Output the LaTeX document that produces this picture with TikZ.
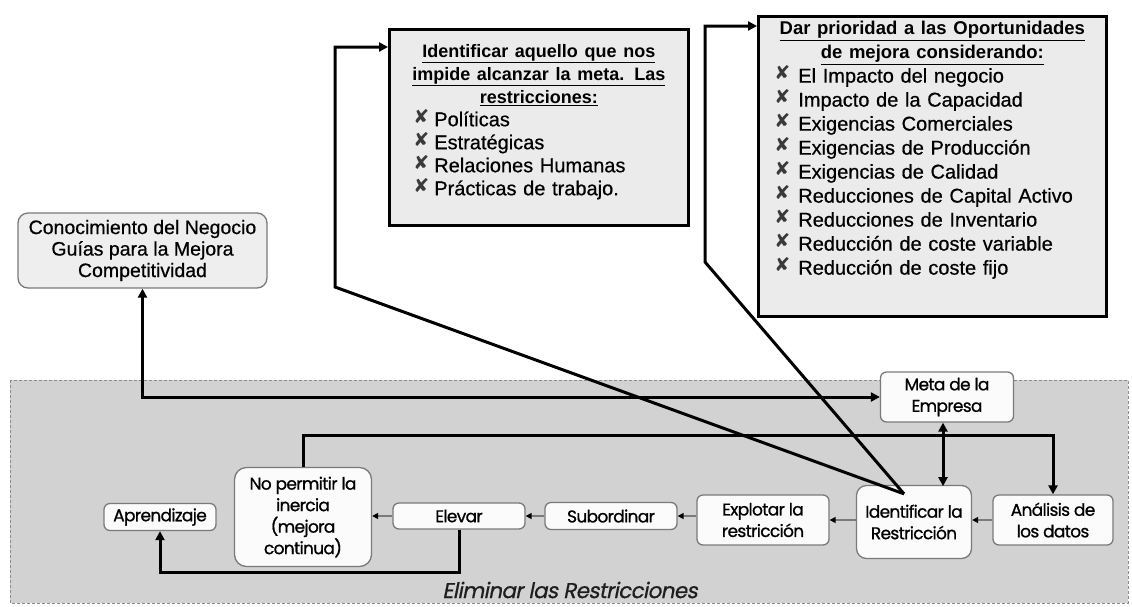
\documentclass[tikz,border=0pt]{standalone}
\usepackage{fontspec}
\setmainfont{Liberation Sans}[UprightFeatures={FakeBold=0.6}]
\newfontfamily\gotica{Poppins}[LetterSpace=-4,FakeBold=0.9]
\newfontfamily\goticait{Poppins}[FakeSlant=0.2,LetterSpace=-3,FakeBold=0.6]
\newfontfamily\simbolo{DejaVu Sans}
\usetikzlibrary{arrows.meta}
\definecolor{zona}{HTML}{D2D2D2}
\definecolor{zonaborde}{HTML}{8C8C8C}
\definecolor{borde}{HTML}{7A7A7A}
\definecolor{caja}{HTML}{FBFBFB}
\definecolor{conocfill}{HTML}{EEEEEE}
\definecolor{notafill}{HTML}{EBEBEB}
\definecolor{marca}{HTML}{3A3A3A}
\definecolor{texto}{HTML}{1E1E1E}
\newcommand{\cruz}[1]{\makebox[#1][l]{\raisebox{3pt}{\color{marca}\simbolo\fontsize{19}{19}\selectfont ✘}}}

\begin{document}
\begin{tikzpicture}[x=1pt,y=-1pt,
    >={Triangle[length=9pt,width=9pt]},
    paso/.style={draw=borde, line width=1.3pt, rounded corners=6pt, fill=caja, align=center,
      inner sep=1pt, font=\gotica\fontsize{17}{21.5}\selectfont},
    marco/.style={draw=black, line width=2.6pt, fill=notafill},
    lista/.style={anchor=north, inner sep=0pt, align=left},
    linea/.style={line width=3pt, draw=black},
    flechita/.style={draw=borde, line width=1.4pt, -{Triangle[length=6pt,width=6pt,color=black]}}]
  \useasboundingbox (0,0) rectangle (1132,606);
  \draw[draw=zonaborde, fill=zona, dash pattern=on 3pt off 2pt, line width=1pt] (10,380) rectangle (1128,603);
  \node[font=\goticait\fontsize{21.5}{21.5}\selectfont, text=texto] (elim) at (570,590) {Eliminar las Restricciones};

  \node[paso, minimum width=133pt, minimum height=50pt] (meta) at (947,397) {Meta de la\\Empresa};
  \node[paso, rounded corners=10pt, minimum width=115pt, minimum height=73pt] (ident) at (914,522) {Identificar la\\Restricción};
  \node[paso, minimum width=120pt, minimum height=50pt] (anal) at (1053,520) {Análisis de\\los datos};
  \node[paso, minimum width=132pt, minimum height=50pt] (explo) at (763,520) {Explotar la\\restricción};
  \node[paso, minimum width=132pt, minimum height=27pt] (subor) at (611,516) {Subordinar};
  \node[paso, minimum width=132pt, minimum height=26pt] (elevar) at (459,516) {Elevar};
  \node[paso, rounded corners=12pt, minimum width=137pt, minimum height=99pt] (inercia) at (303,517) {No permitir la\\inercia\\(mejora\\continua)};
  \node[paso, minimum width=112pt, minimum height=27pt] (aprend) at (160,517) {Aprendizaje};

  \node[draw=borde, line width=1.3pt, rounded corners=10pt, fill=conocfill, minimum width=249pt, minimum height=75pt,
    align=center, inner sep=1pt, font=\fontsize{19.5}{21.5}\selectfont] (conoc) at (142.5,250.5)
    {Conocimiento del Negocio\\Guías para la Mejora\\Competitividad};

  \node[marco, minimum width=299pt, minimum height=196pt, anchor=north west] (restr) at (388,28) {};
  \node[lista, text width=251pt, font=\fontsize{20}{23}\selectfont] (restrtxt) at ([yshift=-16pt]restr.north) {%
    \makebox[\hsize]{\fontsize{18}{23}\selectfont\bfseries\underline{Identificar aquello que nos}}\\
    \makebox[\hsize]{\fontsize{18}{23}\selectfont\bfseries\underline{impide alcanzar la meta. Las}}\\
    \makebox[\hsize]{\fontsize{18}{23}\selectfont\bfseries\underline{restricciones:}}\\
    \cruz{21pt}Políticas\\
    \cruz{21pt}Estratégicas\\
    \cruz{21pt}Relaciones Humanas\\
    \cruz{21pt}Prácticas de trabajo.};

  \node[marco, minimum width=348pt, minimum height=300pt, anchor=north west] (prior) at (757,15) {};
  \node[lista, text width=316pt, font=\fontsize{20}{24}\selectfont] (priortxt) at ([yshift=-6pt]prior.north) {%
    \makebox[\hsize]{\fontsize{18.5}{24}\selectfont\bfseries\underline{Dar prioridad a las Oportunidades}}\\
    \makebox[\hsize]{\fontsize{18.5}{24}\selectfont\bfseries\underline{de mejora considerando:}}\\
    \cruz{24pt}El Impacto del negocio\\
    \cruz{24pt}Impacto de la Capacidad\\
    \cruz{24pt}Exigencias Comerciales\\
    \cruz{24pt}Exigencias de Producción\\
    \cruz{24pt}Exigencias de Calidad\\
    \cruz{24pt}Reducciones de Capital Activo\\
    \cruz{24pt}Reducciones de Inventario\\
    \cruz{24pt}Reducción de coste variable\\
    \cruz{24pt}Reducción de coste fijo};

  \coordinate (foco) at ([xshift=-10pt,yshift=-9pt]ident.north);
  \draw[linea,<->] (conoc.south) |- (meta.west);
  \draw[linea,->] (inercia.north) -- ++(0,-31) -| (anal.north);
  \draw[linea,<->] ([xshift=-4pt]meta.south) -- ++(0,63.5);
  \draw[linea,->] (elevar.south) -- ++(0,43) -| (aprend.south);
  \draw[linea,->] (foco) -- (335,287) |- ([yshift=-19pt]restr.north west);
  \draw[linea,->] (foco) -- (705,262) |- ([yshift=-11pt]prior.north west);

  \draw[flechita] (anal.west) -- (anal.west -| ident.east);
  \draw[flechita] (ident.west |- explo.east) -- (explo.east);
  \draw[flechita] (explo.west |- subor.east) -- (subor.east);
  \draw[flechita] (subor.west) -- (elevar.east);
  \draw[flechita] (elevar.west) -- (elevar.west -| inercia.east);
\end{tikzpicture}
\end{document}
